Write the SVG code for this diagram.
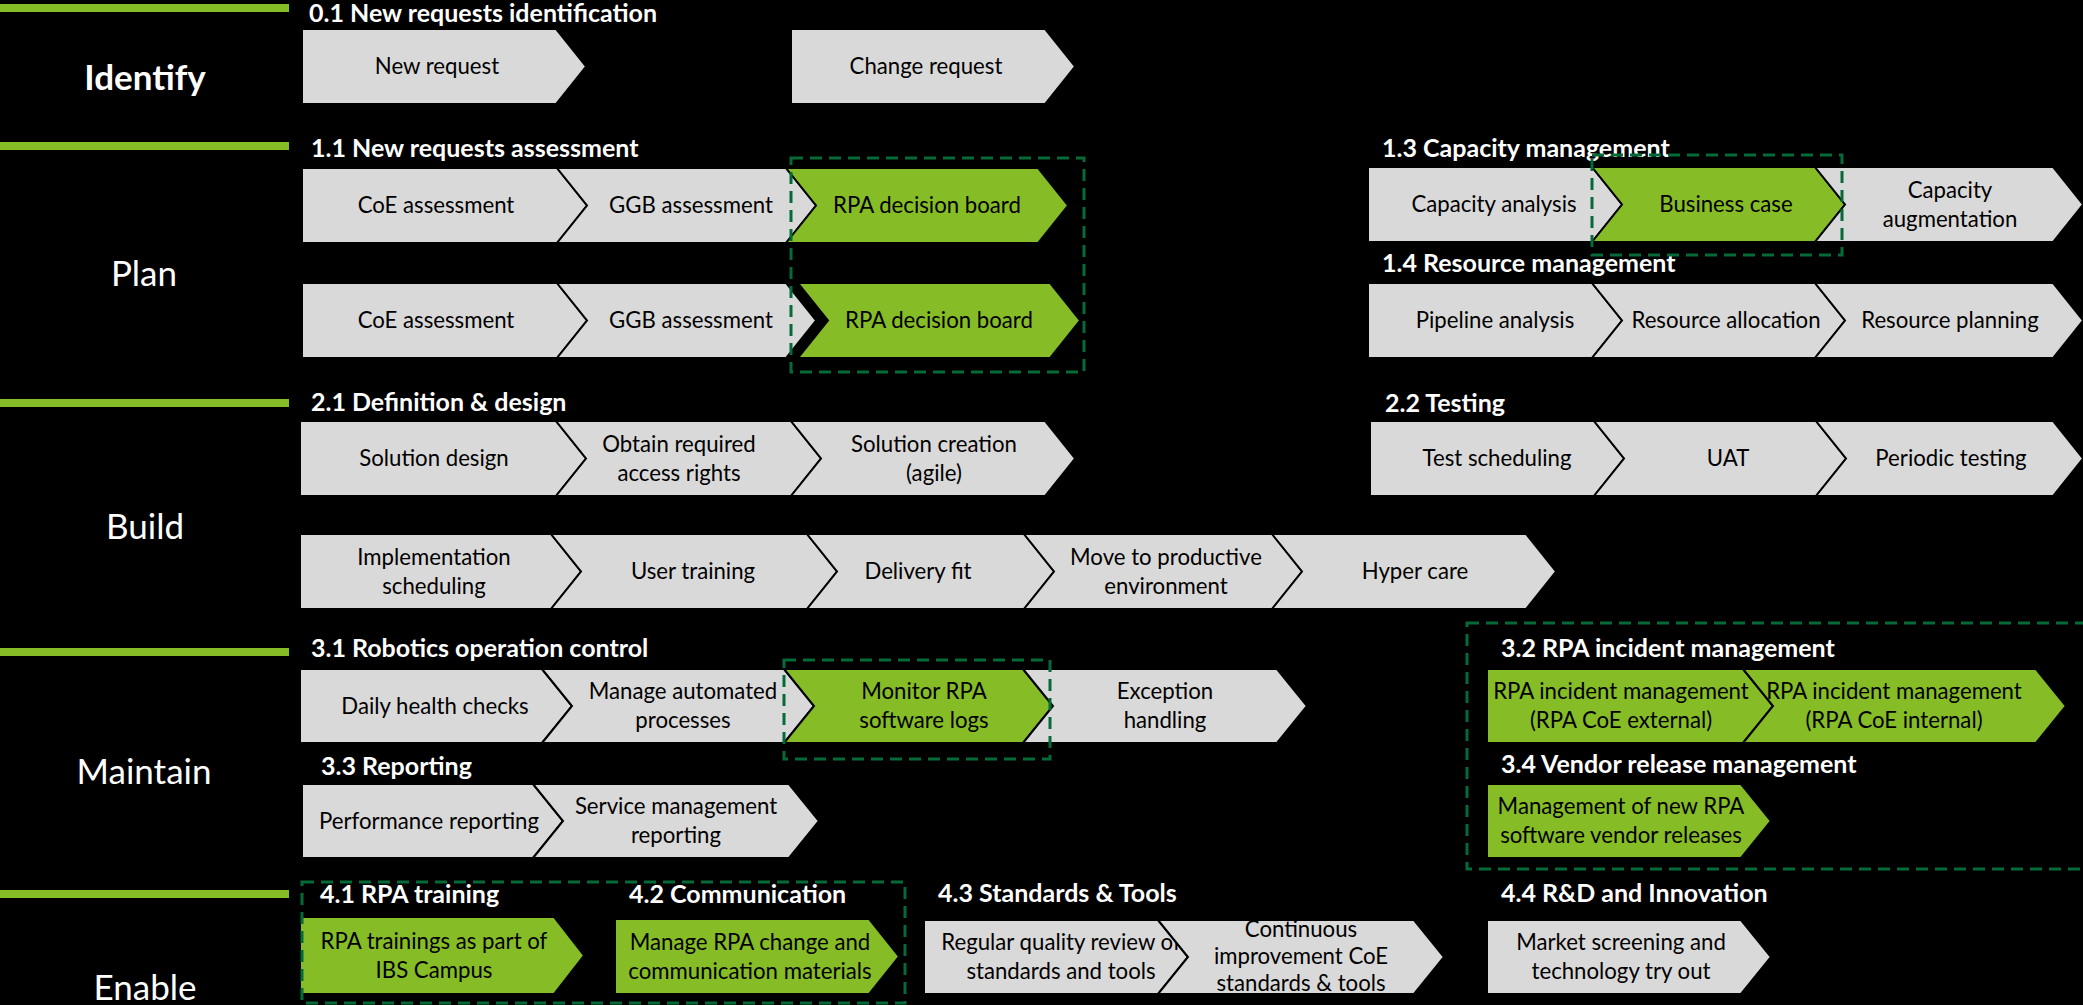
<svg xmlns="http://www.w3.org/2000/svg" width="2083" height="1005" viewBox="0 0 2083 1005">
<style>
.bg{fill:#000}
.bar{fill:#86BC25}
.g{fill:#D9D9D9;stroke:#000;stroke-width:2;stroke-linejoin:miter}
.gr{fill:#86BC25;stroke:#000;stroke-width:2;stroke-linejoin:miter}
.t{font-family:Lato,"Liberation Sans",sans-serif;font-size:22.2px;fill:#000;text-anchor:middle}
.h{font-family:Lato,"Liberation Sans",sans-serif;font-size:25px;font-weight:bold;fill:#fff}
.lbl{font-family:Lato,"Liberation Sans",sans-serif;font-size:35px;fill:#fff;text-anchor:middle}
.dash{fill:none;stroke:#046A38;stroke-width:3;stroke-dasharray:12 7}
</style>
<rect class="bg" x="0" y="0" width="2083" height="1005"/>

<g id="phase-bars">
<rect class="bar" x="0" y="4" width="289" height="8"/>
<rect class="bar" x="0" y="142" width="289" height="8"/>
<rect class="bar" x="0" y="399" width="289" height="8"/>
<rect class="bar" x="0" y="648" width="289" height="8"/>
<rect class="bar" x="0" y="890" width="289" height="8"/>
</g>

<g id="phase-labels">
<text class="lbl" x="145" y="90" font-weight="bold">Identify</text>
<text class="lbl" x="144" y="286">Plan</text>
<text class="lbl" x="145" y="539">Build</text>
<text class="lbl" x="144" y="784">Maintain</text>
<text class="lbl" x="145" y="1000">Enable</text>
</g>

<g id="section-headers">
<text class="h" x="309" y="22">0.1 New requests identification</text>
<text class="h" x="311" y="157">1.1 New requests assessment</text>
<text class="h" x="1382" y="157">1.3 Capacity management</text>
<text class="h" x="1382" y="272">1.4 Resource management</text>
<text class="h" x="311" y="411">2.1 Definition &amp; design</text>
<text class="h" x="1385" y="412">2.2 Testing</text>
<text class="h" x="311" y="657">3.1 Robotics operation control</text>
<text class="h" x="1501" y="657">3.2 RPA incident management</text>
<text class="h" x="321" y="775">3.3 Reporting</text>
<text class="h" x="1501" y="773">3.4 Vendor release management</text>
<text class="h" x="320" y="903">4.1 RPA training</text>
<text class="h" x="629" y="903">4.2 Communication</text>
<text class="h" x="938" y="902">4.3 Standards &amp; Tools</text>
<text class="h" x="1501" y="902">4.4 R&amp;D and Innovation</text>
</g>

<!-- Identify -->
<g id="n-new-request"><path class="g" d="M302,29 H556 L586,66.5 L556,104 H302 Z"/><text class="t" x="437" y="74">New request</text></g>
<g id="n-change-request"><path class="g" d="M791,29 H1045 L1075,66.5 L1045,104 H791 Z"/><text class="t" x="926" y="74">Change request</text></g>

<!-- Plan 1.1 -->
<g id="n-coe-1"><path class="g" d="M302,168 H557 L587,205.5 L557,243 H302 Z"/><text class="t" x="436" y="213">CoE assessment</text></g>
<g id="n-ggb-1"><path class="g" d="M557,168 H786 L816,205.5 L786,243 H557 L587,205.5 Z"/><text class="t" x="691" y="213">GGB assessment</text></g>
<g id="n-rpa-board-1"><path class="gr" d="M786,168 H1038 L1068,205.5 L1038,243 H786 L816,205.5 Z"/><text class="t" x="927" y="213">RPA decision board</text></g>
<g id="n-coe-2"><path class="g" d="M302,283 H557 L587,320.5 L557,358 H302 Z"/><text class="t" x="436" y="328">CoE assessment</text></g>
<g id="n-ggb-2"><path class="g" d="M557,283 H786 L816,320.5 L786,358 H557 L587,320.5 Z"/><text class="t" x="691" y="328">GGB assessment</text></g>
<g id="n-rpa-board-2"><path class="gr" d="M798,283 H1050 L1080,320.5 L1050,358 H798 L828,320.5 Z"/><text class="t" x="939" y="328">RPA decision board</text></g>

<!-- Plan 1.3 -->
<g id="n-capacity-analysis"><path class="g" d="M1368,167 H1592 L1622,204.5 L1592,242 H1368 Z"/><text class="t" x="1494" y="212">Capacity analysis</text></g>
<g id="n-business-case"><path class="gr" d="M1592,167 H1815 L1845,204.5 L1815,242 H1592 L1622,204.5 Z"/><text class="t" x="1726" y="212">Business case</text></g>
<g id="n-capacity-augmentation"><path class="g" d="M1815,167 H2053 L2083,204.5 L2053,242 H1815 L1845,204.5 Z"/><text class="t"><tspan x="1950" y="197.5">Capacity</tspan><tspan x="1950" y="226.5">augmentation</tspan></text></g>

<!-- Plan 1.4 -->
<g id="n-pipeline-analysis"><path class="g" d="M1368,283 H1592 L1622,320.5 L1592,358 H1368 Z"/><text class="t" x="1495" y="328">Pipeline analysis</text></g>
<g id="n-resource-allocation"><path class="g" d="M1592,283 H1815 L1845,320.5 L1815,358 H1592 L1622,320.5 Z"/><text class="t" x="1726" y="328">Resource allocation</text></g>
<g id="n-resource-planning"><path class="g" d="M1815,283 H2053 L2083,320.5 L2053,358 H1815 L1845,320.5 Z"/><text class="t" x="1950" y="328">Resource planning</text></g>

<!-- Build 2.1 -->
<g id="n-solution-design"><path class="g" d="M300,421 H556 L586,458.5 L556,496 H300 Z"/><text class="t" x="434" y="466">Solution design</text></g>
<g id="n-access-rights"><path class="g" d="M556,421 H791 L821,458.5 L791,496 H556 L586,458.5 Z"/><text class="t"><tspan x="679" y="451.5">Obtain required</tspan><tspan x="679" y="480.5">access rights</tspan></text></g>
<g id="n-solution-creation"><path class="g" d="M791,421 H1045 L1075,458.5 L1045,496 H791 L821,458.5 Z"/><text class="t"><tspan x="934" y="451.5">Solution creation</tspan><tspan x="934" y="480.5">(agile)</tspan></text></g>

<!-- Build row 2 -->
<g id="n-implementation-scheduling"><path class="g" d="M300,534 H551 L581,571.5 L551,609 H300 Z"/><text class="t"><tspan x="434" y="564.5">Implementation</tspan><tspan x="434" y="593.5">scheduling</tspan></text></g>
<g id="n-user-training"><path class="g" d="M551,534 H807 L837,571.5 L807,609 H551 L581,571.5 Z"/><text class="t" x="693" y="579">User training</text></g>
<g id="n-delivery-fit"><path class="g" d="M807,534 H1024 L1054,571.5 L1024,609 H807 L837,571.5 Z"/><text class="t" x="918" y="579">Delivery fit</text></g>
<g id="n-move-productive"><path class="g" d="M1024,534 H1272 L1302,571.5 L1272,609 H1024 L1054,571.5 Z"/><text class="t"><tspan x="1166" y="564.5">Move to productive</tspan><tspan x="1166" y="593.5">environment</tspan></text></g>
<g id="n-hyper-care"><path class="g" d="M1272,534 H1526 L1556,571.5 L1526,609 H1272 L1302,571.5 Z"/><text class="t" x="1415" y="579">Hyper care</text></g>

<!-- Build 2.2 -->
<g id="n-test-scheduling"><path class="g" d="M1370,421 H1594 L1624,458.5 L1594,496 H1370 Z"/><text class="t" x="1497" y="466">Test scheduling</text></g>
<g id="n-uat"><path class="g" d="M1594,421 H1816 L1846,458.5 L1816,496 H1594 L1624,458.5 Z"/><text class="t" x="1728" y="466">UAT</text></g>
<g id="n-periodic-testing"><path class="g" d="M1816,421 H2053 L2083,458.5 L2053,496 H1816 L1846,458.5 Z"/><text class="t" x="1951" y="466">Periodic testing</text></g>

<!-- Maintain 3.1 -->
<g id="n-daily-health"><path class="g" d="M300,669 H542 L572,706 L542,743 H300 Z"/><text class="t" x="435" y="713.5">Daily health checks</text></g>
<g id="n-manage-automated"><path class="g" d="M542,669 H784 L814,706 L784,743 H542 L572,706 Z"/><text class="t"><tspan x="683" y="699">Manage automated</tspan><tspan x="683" y="728">processes</tspan></text></g>
<g id="n-monitor-logs"><path class="gr" d="M784,669 H1023 L1053,706 L1023,743 H784 L814,706 Z"/><text class="t"><tspan x="924" y="699">Monitor RPA</tspan><tspan x="924" y="728">software logs</tspan></text></g>
<g id="n-exception-handling"><path class="g" d="M1023,669 H1277 L1307,706 L1277,743 H1023 L1053,706 Z"/><text class="t"><tspan x="1165" y="699">Exception</tspan><tspan x="1165" y="728">handling</tspan></text></g>

<!-- Maintain 3.2 -->
<g id="n-incident-external"><path class="gr" d="M1487,669 H1743 L1773,706 L1743,743 H1487 Z"/><text class="t"><tspan x="1621" y="699">RPA incident management</tspan><tspan x="1621" y="728">(RPA CoE external)</tspan></text></g>
<g id="n-incident-internal"><path class="gr" d="M1743,669 H2036 L2066,706 L2036,743 H1743 L1773,706 Z"/><text class="t"><tspan x="1894" y="699">RPA incident management</tspan><tspan x="1894" y="728">(RPA CoE internal)</tspan></text></g>

<!-- Maintain 3.3 -->
<g id="n-performance-reporting"><path class="g" d="M302,784 H533 L563,821 L533,858 H302 Z"/><text class="t" x="429" y="828.5">Performance reporting</text></g>
<g id="n-service-reporting"><path class="g" d="M533,784 H789 L819,821 L789,858 H533 L563,821 Z"/><text class="t"><tspan x="676" y="814">Service management</tspan><tspan x="676" y="843">reporting</tspan></text></g>

<!-- Maintain 3.4 -->
<g id="n-vendor-releases"><path class="gr" d="M1487,784 H1741 L1771,821 L1741,858 H1487 Z"/><text class="t"><tspan x="1621" y="814">Management of new RPA</tspan><tspan x="1621" y="843">software vendor releases</tspan></text></g>

<!-- Enable -->
<g id="n-rpa-trainings"><path class="gr" d="M300,917 H554 L584,955.5 L554,994 H300 Z"/><text class="t"><tspan x="434" y="948.5">RPA trainings as part of</tspan><tspan x="434" y="977.5">IBS Campus</tspan></text></g>
<g id="n-communication-materials"><path class="gr" d="M615,919 H869 L899,956.5 L869,994 H615 Z"/><text class="t"><tspan x="750" y="949.5">Manage RPA change and</tspan><tspan x="750" y="978.5">communication materials</tspan></text></g>
<g id="n-quality-review"><path class="g" d="M924,920 H1158 L1188,957 L1158,994 H924 Z"/><text class="t"><tspan x="1061" y="950">Regular quality review of</tspan><tspan x="1061" y="979">standards and tools</tspan></text></g>
<g id="n-continuous-improvement"><path class="g" d="M1158,920 H1414 L1444,957 L1414,994 H1158 L1188,957 Z"/><text class="t"><tspan x="1301" y="937">Continuous</tspan><tspan x="1301" y="964">improvement CoE</tspan><tspan x="1301" y="991">standards &amp; tools</tspan></text></g>
<g id="n-market-screening"><path class="g" d="M1487,920 H1741 L1771,957 L1741,994 H1487 Z"/><text class="t"><tspan x="1621" y="950">Market screening and</tspan><tspan x="1621" y="979">technology try out</tspan></text></g>

<g id="highlight-frames">
<rect class="dash" x="791" y="158" width="293" height="214"/>
<rect class="dash" x="1592" y="155" width="250" height="100"/>
<rect class="dash" x="784" y="660" width="266" height="99"/>
<rect class="dash" x="1467" y="623" width="630" height="246"/>
<rect class="dash" x="302" y="882" width="603" height="121"/>
</g>
<g id="connectors"/>
</svg>
